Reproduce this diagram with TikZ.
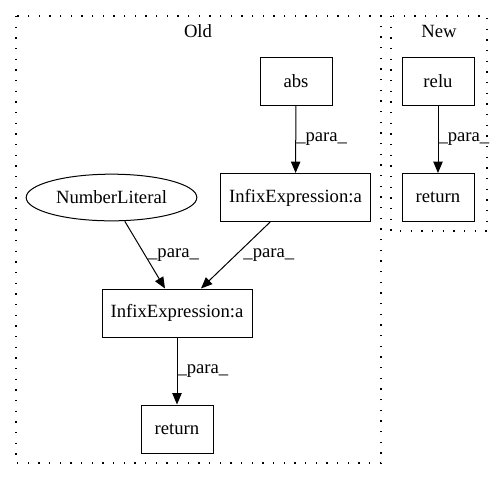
\documentclass[tikz,border=0pt]{standalone}
\usepackage{fontspec}
\setmainfont{Liberation Serif}
\usepackage{tikz}
\usetikzlibrary{shapes.geometric, arrows.meta, positioning}

\tikzset{
    box/.style={draw, rectangle, line width=0.75pt, minimum width=54pt, minimum height=36pt, inner sep=2pt},
    wide/.style={box, minimum width=112.5pt},
    oval/.style={draw, ellipse, line width=0.75pt, minimum width=128pt, minimum height=35pt, inner sep=1pt},
    flow/.style={line width=0.75pt, -{Triangle[length=8.5pt, width=7pt]}},
    lbl/.style={anchor=west, inner sep=0pt},
    cluster/.style={line width=0.9pt, dash pattern=on 1pt off 7pt}
}

\begin{document}
\begin{tikzpicture}[x=0.75pt, y=-0.75pt, every node/.style={font=\fontsize{14}{16}\selectfont}]
    \useasboundingbox (0, 0) rectangle (503, 480);

    % Clusters
    \draw[cluster] (16, 16) rectangle (381, 463);
    \node (oldtitle) at (198, 31) {Old};
    \draw[cluster] (391, 16) rectangle (487, 231);
    \node (newtitle) at (439, 31) {New};

    % Old
    \node[box] (abs) at (296, 81) {abs};
    \node[wide] (infixup) at (295.5, 197.5) {InfixExpression:a};
    \node[oval] (numlit) at (111.5, 197.5) {NumberLiteral};
    \node[wide] (infixlow) at (177, 313) {InfixExpression:a};
    \node[box] (retold) at (177, 429) {return};

    \draw[flow] (abs) -- node[lbl, midway] {\_para\_} (infixup);
    \draw[flow] ([xshift=10pt]numlit.south) -- node[lbl, midway, xshift=2pt] {\_para\_} ([xshift=-9pt]infixlow.north);
    \draw[flow] ([xshift=-19pt]infixup.south) -- node[lbl, midway, xshift=5.5pt] {\_para\_} ([xshift=18pt]infixlow.north);
    \draw[flow] (infixlow) -- node[lbl, midway] {\_para\_} (retold);

    % New
    \node[box] (relu) at (438, 81) {relu};
    \node[box] (retnew) at (438, 197.5) {return};

    \draw[flow] (relu) -- node[lbl, midway] {\_para\_} (retnew);

\end{tikzpicture}
\end{document}
